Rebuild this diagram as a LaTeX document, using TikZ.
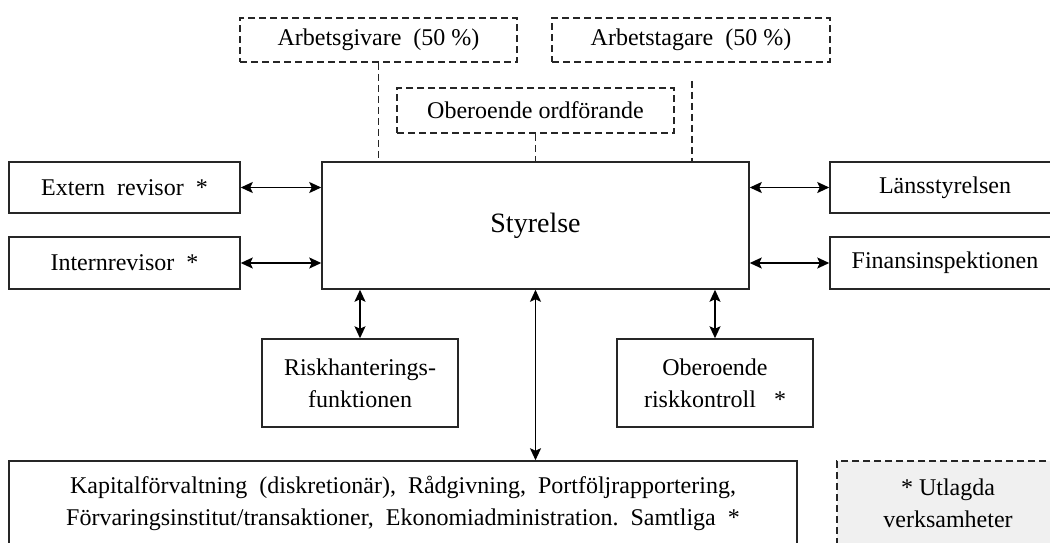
\documentclass[tikz,border=0pt]{standalone}
\usepackage{fontspec}
\setmainfont{Liberation Serif}
\usetikzlibrary{arrows.meta,calc}
\begin{document}
\begin{tikzpicture}[x=1pt,y=-1pt,
  box/.style={draw=black!85, line width=1.5pt, inner sep=0pt, align=center,
    font=\fontsize{24}{32}\selectfont},
  dbox/.style={box, dash pattern=on 7pt off 4pt},
  dline/.style={draw=black!85, line width=1.5pt, dash pattern=on 7pt off 4pt},
  tip/.tip={Stealth[length=12pt,width=11pt,inset=2.5pt]},
  arr/.style={draw=black, line width=1.7pt, tip-tip}
]
\useasboundingbox (0,0) rectangle (1050,542);
\fill[white] (0,0) rectangle (1050,542);

% top dashed boxes
\node[dbox, minimum width=277pt, minimum height=44pt] (arbg) at (378.5,40) {Arbetsgivare\ \ (50 \%)};
\node[dbox, minimum width=278pt, minimum height=44pt] (arbt) at (691,40) {Arbetstagare\ \ (50 \%)};
\node[dbox, minimum width=277pt, minimum height=45pt] (ordf) at (535.5,110.5) {Oberoende ordförande};

% central box
\node[box, minimum width=427pt, minimum height=127pt, font=\fontsize{28}{34}\selectfont] (sty) at (535.5,225.5) {Styrelse};

% side boxes
\node[box, minimum width=231pt, minimum height=51pt] (ext) at (124.5,187.5) {Extern\ \ revisor\ \ *};
\node[box, minimum width=231pt, minimum height=52pt] (intr) at (124.5,263) {Internrevisor\ \ *};
\node[box, minimum width=230pt, minimum height=51pt] (lans) at (945,187.5) {Länsstyrelsen};
\node[box, minimum width=230pt, minimum height=52pt] (fi) at (945,263) {Finansinspektionen};

% lower boxes
\node[box, minimum width=196pt, minimum height=88pt] (risk) at (360,383) {Riskhanterings-\\funktionen};
\node[box, minimum width=196pt, minimum height=88pt] (okon) at (715,383) {Oberoende\\riskkontroll\ \ \ *};

% bottom boxes
\node[box, minimum width=788pt, minimum height=84pt] (bot) at (403,503) {Kapitalförvaltning\ \ (diskretionär),\ \ Rådgivning,\ \ Portföljrapportering,\\Förvaringsinstitut/transaktioner,\ \ Ekonomiadministration.\ \ Samtliga\ \ *};
\node[dbox, fill=gray!12, minimum width=222pt, minimum height=84pt] (leg) at (948,503) {* Utlagda\\verksamheter};

% dashed connectors
\draw[dline] (arbg.south) -- (arbg.south |- sty.north);
\draw[dline] (ordf.south) -- (ordf.south |- sty.north);
\coordinate (arbtend) at ($(arbt.south)+(1,18)$);
\draw[dline] (arbtend) -- (arbtend |- sty.north);

% arrows
\draw[arr] (ext.east) -- (ext.east -| sty.west);
\draw[arr] (intr.east) -- (intr.east -| sty.west);
\draw[arr] (lans.west -| sty.east) -- (lans.west);
\draw[arr] (fi.west -| sty.east) -- (fi.west);
\draw[arr] (risk.north |- sty.south) -- (risk.north);
\draw[arr] (okon.north |- sty.south) -- (okon.north);
\draw[arr] (sty.south) -- (sty.south |- bot.north);
\end{tikzpicture}
\end{document}
